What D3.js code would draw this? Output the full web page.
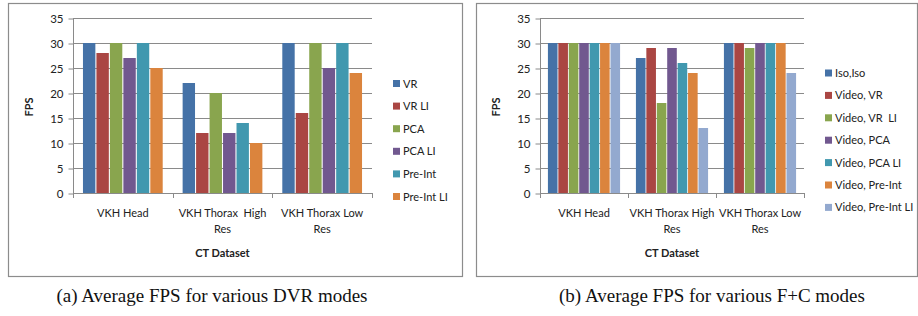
<!DOCTYPE html>
<html>
<head>
<meta charset="utf-8">
<script src="https://cdn.jsdelivr.net/npm/d3@7"></script>
<style>
  body { margin: 0; background: #fff; }
  svg text { font-family: Lato, "Liberation Sans", sans-serif; fill: #222; white-space: pre; }
  .caption { font-family: "Liberation Serif", serif !important; font-size: 19px; fill: #111; }
</style>
</head>
<body>
<svg id="chart" width="918" height="316"></svg>
<script>
// ---- data ----
const categories = [["VKH Head"], ["VKH Thorax  High", "Res"], ["VKH Thorax Low", "Res"]];
const categoriesB = [["VKH Head"], ["VKH Thorax High", "Res"], ["VKH Thorax Low", "Res"]];
const yTicks = [0, 5, 10, 15, 20, 25, 30, 35];

const dvrSeries = ["VR", "VR LI", "PCA", "PCA LI", "Pre-Int", "Pre-Int LI"];
const dvrValues = [
    [30, 22, 30],   // VR
    [28, 12, 16],   // VR LI
    [30, 20, 30],   // PCA
    [27, 12, 25],   // PCA LI
    [30, 14, 30],   // Pre-Int
    [25, 10, 24]    // Pre-Int LI
];

const fcSeries = ["Iso,Iso", "Video, VR", "Video, VR  LI", "Video, PCA", "Video, PCA LI", "Video, Pre-Int", "Video, Pre-Int LI"];
const fcValues = [
    [30, 27, 30],
    [30, 29, 30],
    [30, 18, 29],
    [30, 29, 30],
    [30, 26, 30],
    [30, 24, 30],
    [30, 13, 24]
];

const colors = ["#4572a7", "#aa4643", "#89a54e", "#71588f", "#4198af", "#db843d", "#93a9cf"];

const svg = d3.select("#chart");

function drawChart(opt) {
    let g = svg.append("g");

    // outer frame
    g.append("rect")
        .attr("x", opt.box[0] + 0.5).attr("y", opt.box[1] + 0.5)
        .attr("width", opt.box[2]).attr("height", opt.box[3])
        .attr("fill", "none").attr("stroke", "#8c8c8c").attr("stroke-width", 1.2);

    let y = d3.scaleLinear().domain([0, 35]).range([193, 18]);

    let x0 = d3.scaleBand()
        .domain(d3.range(opt.cats.length))
        .range([opt.left, opt.right])
        .paddingInner(opt.pad).paddingOuter(opt.pad / 2);

    let x1 = d3.scaleBand()
        .domain(d3.range(opt.series.length))
        .range([0, x0.bandwidth()])
        .paddingInner(0.08);

    // gridlines
    g.append("g").selectAll("line")
        .data(yTicks.slice(1))
        .join("line")
        .attr("x1", opt.left).attr("x2", opt.right)
        .attr("y1", d => Math.round(y(d)) + 0.5).attr("y2", d => Math.round(y(d)) + 0.5)
        .attr("stroke", "#8a8a8a");

    // y axis
    let yAxis = d3.axisLeft(y).tickValues(yTicks).tickSize(5).tickPadding(5);
    let ya = g.append("g")
        .attr("transform", `translate(${opt.left + 0.5},0.5)`)
        .call(yAxis);
    ya.select(".domain").attr("stroke", "#8a8a8a").attr("d", `M0,${y(35)}V${y(0)}`);
    ya.selectAll(".tick line").attr("stroke", "#8a8a8a");
    ya.selectAll("text").style("font-family", "Lato, sans-serif").style("font-size", "11.5px").attr("fill", "#222");

    // x axis line + category dividers
    let step = x0.step();
    let bounds = d3.range(opt.cats.length + 1).map(i => opt.left + i * step);
    g.append("line")
        .attr("x1", opt.left).attr("x2", opt.right)
        .attr("y1", y(0) + 0.5).attr("y2", y(0) + 0.5)
        .attr("stroke", "#8a8a8a");
    g.append("g").selectAll("line")
        .data(bounds)
        .join("line")
        .attr("x1", d => Math.round(d) + 0.5).attr("x2", d => Math.round(d) + 0.5)
        .attr("y1", y(0)).attr("y2", y(0) + 5)
        .attr("stroke", "#8a8a8a");

    // bars
    opt.series.forEach((s, si) => {
        g.append("g").selectAll("rect")
            .data(opt.values[si])
            .join("rect")
            .attr("x", (d, ci) => x0(ci) + x1(si))
            .attr("y", d => y(d))
            .attr("width", x1.bandwidth())
            .attr("height", d => y(0) - y(d))
            .attr("fill", colors[si]);
    });

    // category labels
    let cl = g.append("g").selectAll("text")
        .data(opt.cats)
        .join("text")
        .attr("text-anchor", "middle")
        .style("font-size", "11px");
    cl.each(function (lines, ci) {
        d3.select(this).selectAll("tspan")
            .data(lines)
            .join("tspan")
            .attr("x", x0(ci) + x0.bandwidth() / 2)
            .attr("y", (d, i) => 217 + i * 16)
            .text(d => d);
    });

    // axis titles
    g.append("text")
        .attr("x", (opt.left + opt.right) / 2).attr("y", 257)
        .attr("text-anchor", "middle")
        .style("font-size", "11px").style("font-weight", "bold")
        .text("CT Dataset");
    g.append("text")
        .attr("transform", `translate(${opt.yTitleX},107)rotate(-90)`)
        .attr("text-anchor", "middle")
        .style("font-size", "11px").style("font-weight", "bold")
        .text("FPS");

    // legend
    let lg = g.append("g").selectAll("g")
        .data(opt.series)
        .join("g")
        .attr("transform", (d, i) => `translate(${opt.legendX},${opt.legendY + i * opt.legendStep})`);
    lg.append("rect")
        .attr("x", 0).attr("y", -3.5).attr("width", 7).attr("height", 7)
        .attr("fill", (d, i) => colors[i]);
    lg.append("text")
        .attr("x", 10).attr("y", 4)
        .style("font-size", "11px")
        .text(d => d);

    // caption
    svg.append("text")
        .attr("class", "caption")
        .attr("x", opt.captionX).attr("y", 302)
        .attr("text-anchor", "middle")
        .text(opt.caption);
}

drawChart({
    box: [8, 3, 454, 273],
    left: 73, right: 372, pad: 0.2,
    cats: categories, series: dvrSeries, values: dvrValues,
    yTitleX: 33,
    legendX: 393, legendY: 83.5, legendStep: 22.6,
    captionX: 212, caption: "(a) Average FPS for various DVR modes"
});

drawChart({
    box: [476, 3, 441, 273],
    left: 540, right: 804, pad: 0.18,
    cats: categoriesB, series: fcSeries, values: fcValues,
    yTitleX: 500,
    legendX: 825, legendY: 73, legendStep: 22.4,
    captionX: 712, caption: "(b) Average FPS for various F+C modes"
});
</script>
</body>
</html>
